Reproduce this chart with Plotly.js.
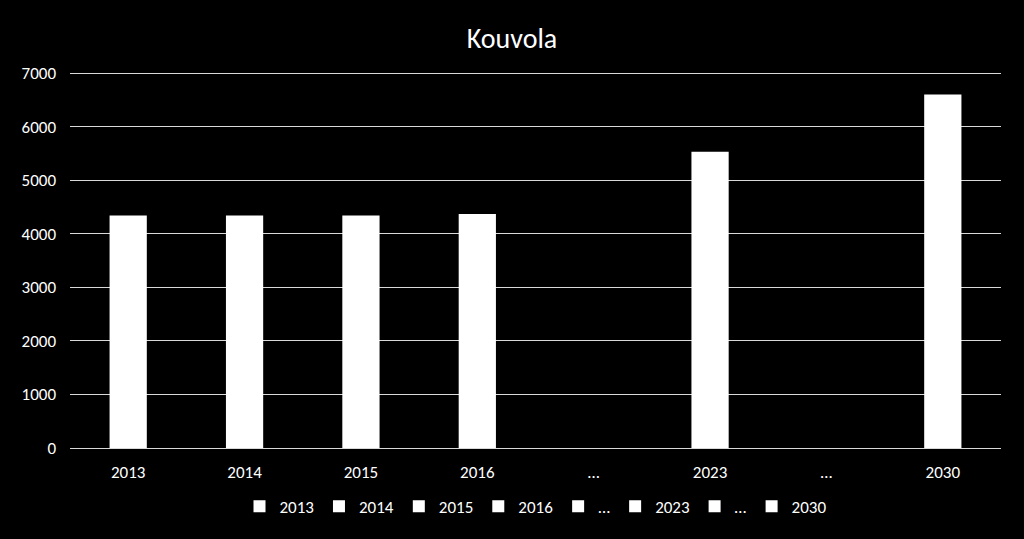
<!DOCTYPE html>
<html>
<head>
<meta charset="utf-8">
<script src="https://cdn.plot.ly/plotly-3.0.1.min.js"></script>
<style>html,body{margin:0;padding:0;background:#000;}#chart{width:1024px;height:539px;}</style>
</head>
<body>
<div id="chart"></div>
<script>
const categories = ['2013', '2014', '2015', '2016', '…', '2023', '…', '2030'];
const values = [4340, 4340, 4340, 4370, null, 5530, null, 6600];
const positions = [0, 1, 2, 3, 4, 5, 6, 7];

const traces = categories.map((c, i) => ({
  type: 'bar',
  name: c,
  x: [positions[i]],
  y: [values[i]],
  width: 0.32,
  marker: {color: '#ffffff'},
  hoverinfo: 'x+y'
}));

const font = 'Carlito, Calibri, "Liberation Sans", Arial, sans-serif';
const layout = {
  width: 1024, height: 539,
  paper_bgcolor: '#000', plot_bgcolor: '#000',
  font: {family: font, color: '#ffffff', size: 17},
  title: {text: 'Kouvola', x: 0.5, xanchor: 'center', y: 0.93, yanchor: 'middle', font: {size: 28, color: '#ffffff', family: font}},
  margin: {l: 70, r: 23, t: 71, b: 91},
  barmode: 'overlay',
  xaxis: {
    range: [-0.5, 7.5], tickmode: 'array', tickvals: positions, ticktext: categories,
    showgrid: false, zeroline: false, showline: false, ticks: '', ticklabelstandoff: 12,
    tickfont: {size: 17, color: '#ffffff'}
  },
  yaxis: {
    range: [0, 7040], tickmode: 'array', tickvals: [0, 1000, 2000, 3000, 4000, 5000, 6000, 7000],
    showgrid: true, gridcolor: '#d9d9d9', gridwidth: 1,
    zeroline: true, zerolinecolor: '#d9d9d9', zerolinewidth: 1, showline: false, ticks: '',
    ticklabelstandoff: 13, tickfont: {size: 17, color: '#ffffff'}
  },
  legend: {orientation: 'h', x: 0.5, xanchor: 'center', yref: 'container', y: 0.06, yanchor: 'middle',
    font: {size: 17, color: '#ffffff'}, itemwidth: 30,
    traceorder: 'normal', bgcolor: 'rgba(0,0,0,0)'},
  showlegend: true
};

Plotly.newPlot('chart', traces, layout, {displayModeBar: false, staticPlot: true});
</script>
</body>
</html>
